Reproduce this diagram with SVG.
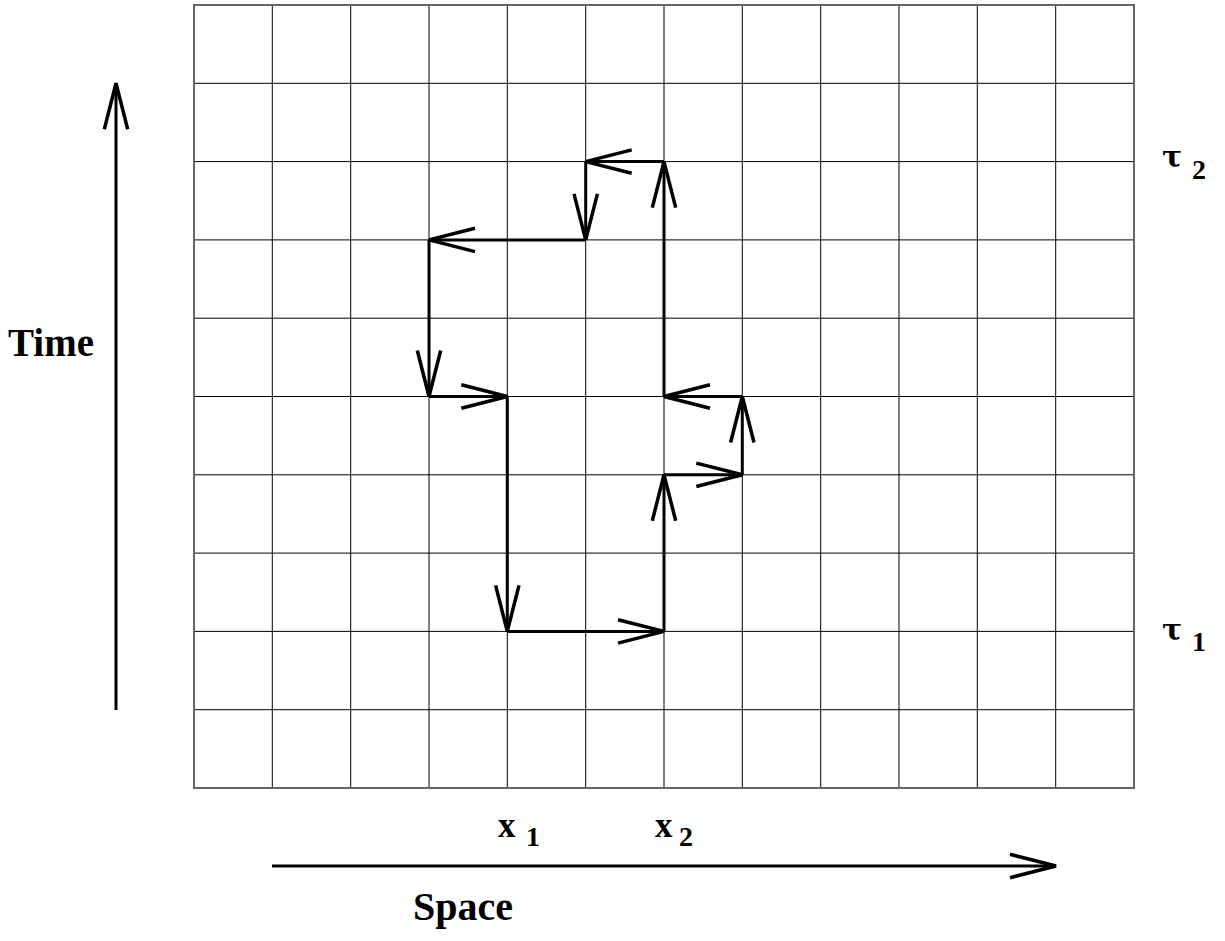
<svg xmlns="http://www.w3.org/2000/svg" width="1225" height="941" viewBox="0 0 1225 941">
<style>
.grid line{stroke:#000;stroke-width:1}
.border{fill:none;stroke:#666;stroke-width:2}
.path line{stroke:#000;stroke-width:3;marker-end:url(#arr)}
.axis line{stroke:#000;stroke-width:3;marker-end:url(#arr)}
.lbl{font-family:"Liberation Serif","Times New Roman",serif;font-weight:bold;fill:#000}
.tau{font-family:"DejaVu Serif",serif;font-weight:bold;fill:#000}
</style>
<defs>
<marker id="arr" markerUnits="userSpaceOnUse" markerWidth="60" markerHeight="30" refX="0" refY="0" orient="auto" overflow="visible">
<path d="M-46,-11.7 L0,0 L-46,11.7" fill="none" stroke="#000" stroke-width="3.5" stroke-linejoin="miter"/>
</marker>
</defs>
<rect width="1225" height="941" fill="#fff"/>
<g id="grid" class="grid">
<line x1="272.3" y1="5" x2="272.3" y2="788"/>
<line x1="350.7" y1="5" x2="350.7" y2="788"/>
<line x1="429" y1="5" x2="429" y2="788"/>
<line x1="507.3" y1="5" x2="507.3" y2="788"/>
<line x1="585.7" y1="5" x2="585.7" y2="788"/>
<line x1="664" y1="5" x2="664" y2="788"/>
<line x1="742.3" y1="5" x2="742.3" y2="788"/>
<line x1="820.7" y1="5" x2="820.7" y2="788"/>
<line x1="899" y1="5" x2="899" y2="788"/>
<line x1="977.3" y1="5" x2="977.3" y2="788"/>
<line x1="1055.7" y1="5" x2="1055.7" y2="788"/>
<line x1="194" y1="83.3" x2="1134" y2="83.3"/>
<line x1="194" y1="161.6" x2="1134" y2="161.6"/>
<line x1="194" y1="239.9" x2="1134" y2="239.9"/>
<line x1="194" y1="318.2" x2="1134" y2="318.2"/>
<line x1="194" y1="396.5" x2="1134" y2="396.5"/>
<line x1="194" y1="474.8" x2="1134" y2="474.8"/>
<line x1="194" y1="553.1" x2="1134" y2="553.1"/>
<line x1="194" y1="631.4" x2="1134" y2="631.4"/>
<line x1="194" y1="709.7" x2="1134" y2="709.7"/>
<rect class="border" x="194" y="5" width="940" height="783"/>
</g>
<g id="connectors" class="path">
<line x1="507.3" y1="631.4" x2="664" y2="631.4"/>
<line x1="664" y1="631.4" x2="664" y2="474.8"/>
<line x1="664" y1="474.8" x2="742.3" y2="474.8"/>
<line x1="742.3" y1="474.8" x2="742.3" y2="396.5"/>
<line x1="742.3" y1="396.5" x2="664" y2="396.5"/>
<line x1="664" y1="396.5" x2="664" y2="161.6"/>
<line x1="664" y1="161.6" x2="585.7" y2="161.6"/>
<line x1="585.7" y1="161.6" x2="585.7" y2="239.9"/>
<line x1="585.7" y1="239.9" x2="429" y2="239.9"/>
<line x1="429" y1="239.9" x2="429" y2="396.5"/>
<line x1="429" y1="396.5" x2="507.3" y2="396.5"/>
<line x1="507.3" y1="396.5" x2="507.3" y2="631.4"/>
</g>
<g id="time-axis" class="axis">
<line x1="116" y1="710" x2="116" y2="83.3"/>
<text class="lbl" x="8" y="356" font-size="39">Time</text>
</g>
<g id="space-axis" class="axis">
<line x1="272" y1="866" x2="1056" y2="866"/>
<text class="lbl" x="413" y="920" font-size="40">Space</text>
</g>
<g id="tau2">
<text class="tau" x="1162" y="167" font-size="30">τ</text>
<text class="lbl" x="1192" y="179" font-size="28">2</text>
</g>
<g id="tau1">
<text class="tau" x="1162" y="640" font-size="30">τ</text>
<text class="lbl" x="1192" y="651" font-size="28">1</text>
</g>
<g id="x1">
<text class="lbl" x="498" y="837" font-size="35">x</text>
<text class="lbl" x="526" y="846" font-size="28">1</text>
</g>
<g id="x2">
<text class="lbl" x="655" y="837" font-size="35">x</text>
<text class="lbl" x="679" y="846" font-size="28">2</text>
</g>
</svg>
